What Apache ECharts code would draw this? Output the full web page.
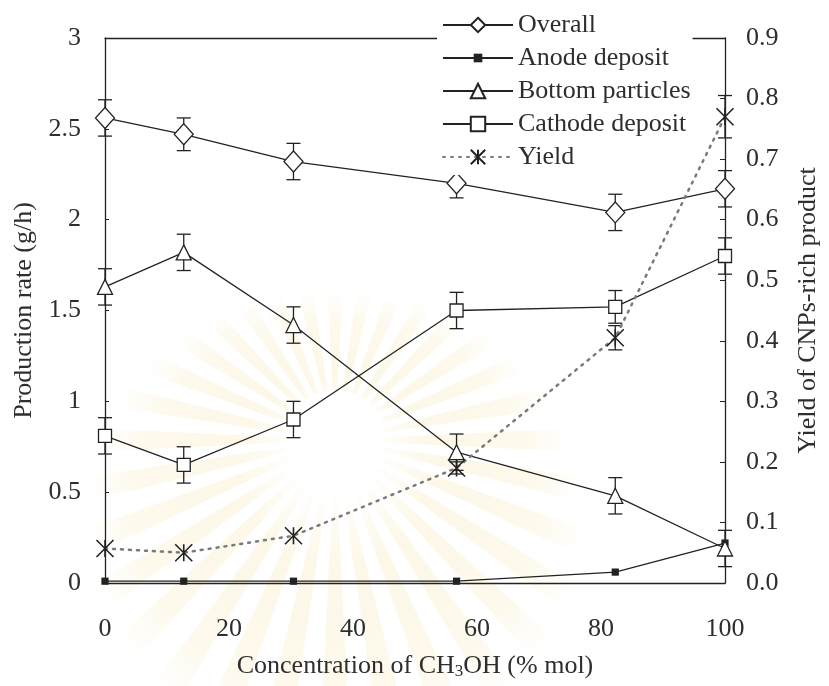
<!DOCTYPE html>
<html>
<head>
<meta charset="utf-8">
<script src="https://cdn.jsdelivr.net/npm/echarts@6/dist/echarts.min.js"></script>
<style>
  html, body { margin: 0; padding: 0; background: #fff; }
  #chart { width: 829px; height: 686px; }
</style>
</head>
<body>
<div id="chart"></div>
<script>
// Methanol concentration in the feed (% mol)
const concentration = [0, 12.7, 30.4, 56.7, 82.3, 100];

// Production rates (g/h) with standard deviations
const overall    = [2.56, 2.47, 2.32, 2.20, 2.04, 2.17];
const overallErr = [0.10, 0.09, 0.10, 0.08, 0.10, 0.10];
const anode      = [0.01, 0.01, 0.01, 0.01, 0.06, 0.22];
const bottom     = [1.63, 1.82, 1.42, 0.72, 0.48, 0.19];
const bottomErr  = [0.10, 0.10, 0.10, 0.10, 0.10, 0.10];
const cathode    = [0.81, 0.65, 0.90, 1.50, 1.52, 1.80];
const cathodeErr = [0.10, 0.10, 0.10, 0.10, 0.09, 0.10];

// Yield of CNPs-rich product (fraction) with standard deviations
const yieldVals = [0.057, 0.050, 0.078, 0.190, 0.405, 0.770];
const yieldErr  = [0, 0, 0, 0.010, 0.020, 0.035];

// Axis tick labels
const xTickLabels     = ['0', '20', '40', '60', '80', '100'];
const rateTickLabels  = ['0', '0.5', '1', '1.5', '2', '2.5', '3'];
const yieldTickLabels = ['0.0', '0.1', '0.2', '0.3', '0.4', '0.5', '0.6', '0.7', '0.8', '0.9'];

const FONT = '"Liberation Serif", "Times New Roman", serif';
const INK = '#222';
const TEXT = '#2e2e2e';

const pairs = (ys) => concentration.map((x, i) => [x, ys[i]]);

function errorBars(id, yAxisIndex, vals, errs, cap) {
  const data = [];
  concentration.forEach((x, i) => {
    if (errs[i] > 0) data.push([x, vals[i] - errs[i], vals[i] + errs[i]]);
  });
  return {
    type: 'custom',
    id: id,
    name: id,
    yAxisIndex: yAxisIndex,
    z: 1,
    silent: true,
    clip: false,
    data: data,
    encode: { x: 0, y: [1, 2] },
    renderItem: function (params, api) {
      const lo = api.coord([api.value(0), api.value(1)]);
      const hi = api.coord([api.value(0), api.value(2)]);
      const w = cap / 2;
      const st = { stroke: INK, lineWidth: 1.3 };
      return {
        type: 'group',
        children: [
          { type: 'line', shape: { x1: lo[0], y1: lo[1], x2: hi[0], y2: hi[1] }, style: st },
          { type: 'line', shape: { x1: lo[0] - w, y1: lo[1], x2: lo[0] + w, y2: lo[1] }, style: st },
          { type: 'line', shape: { x1: hi[0] - w, y1: hi[1], x2: hi[0] + w, y2: hi[1] }, style: st }
        ]
      };
    }
  };
}

const hollow = { color: '#fff', borderColor: INK, borderWidth: 1.3 };
const solidLine = { color: INK, width: 1.3 };

// small filled square, padded so it stays small inside the legend icon box
const smallSquare = 'path://M0,0L0,0M20,20L20,20M4,4H16V16H4Z';
// six-armed asterisk
const asterisk = 'path://M0,0L16,16M16,0L0,16M8,0L8,16';

// faint sunburst emblem in the background
function sunburst(cx, cy) {
  const els = [];
  const n = 32;
  for (let k = 0; k < n; k++) {
    const mid = (k / n) * Math.PI * 2;           // angle from "up", clockwise
    const down = -Math.cos(mid);                 // -1 at top, +1 at bottom
    const r = 235 + 85 * down;
    const half = 2.8 * Math.PI / 180;
    const a = mid - Math.PI / 2;
    els.push({
      type: 'sector',
      z: -10,
      silent: true,
      shape: { cx: cx, cy: cy, r0: 50, r: r, startAngle: a - half, endAngle: a + half },
      style: {
        fill: {
          type: 'radial', x: cx, y: cy, r: r, global: true,
          colorStops: [
            { offset: 0.15, color: 'rgba(246,228,170,0)' },
            { offset: 0.40, color: 'rgba(246,228,170,0.28)' },
            { offset: 0.80, color: 'rgba(246,228,170,0.22)' },
            { offset: 1.00, color: 'rgba(246,228,170,0)' }
          ]
        }
      }
    });
  }
  return els;
}

const chart = echarts.init(document.getElementById('chart'), null, { renderer: 'canvas' });

chart.setOption({
  animation: false,
  backgroundColor: '#fff',
  textStyle: { fontFamily: FONT },
  graphic: { elements: sunburst(335, 440) },
  grid: { left: 105, right: 98, top: 38, bottom: 103, containLabel: false },
  legend: {
    data: ['Overall', 'Anode deposit', 'Bottom particles', 'Cathode deposit', 'Yield'],
    orient: 'vertical',
    left: 437,
    top: 7,
    padding: [5, 2, 5, 5],
    itemWidth: 70,
    itemHeight: 18,
    itemGap: 7,
    backgroundColor: '#fff',
    selectedMode: false,
    textStyle: { fontFamily: FONT, fontSize: 26, lineHeight: 26, color: TEXT }
  },
  xAxis: [
    {
      type: 'value',
      min: 0, max: 100, interval: 20,
      name: 'Concentration of CH{s|3}OH (% mol)',
      nameLocation: 'middle',
      nameGap: 70,
      nameTextStyle: {
        fontFamily: FONT, fontSize: 26, color: TEXT,
        rich: { s: { fontFamily: FONT, fontSize: 17, color: TEXT, padding: [10, 0, 0, 0] } }
      },
      axisLine: { show: true, onZero: false, lineStyle: { color: INK, width: 1.3 } },
      axisTick: { show: false },
      splitLine: { show: false },
      axisLabel: {
        margin: 33, fontFamily: FONT, fontSize: 26, color: TEXT,
        formatter: (v) => xTickLabels[Math.round(v / 20)]
      }
    },
    {
      type: 'value',
      position: 'top',
      min: 0, max: 100,
      axisLine: { show: true, onZero: false, lineStyle: { color: INK, width: 1.3 } },
      axisTick: { show: false },
      axisLabel: { show: false },
      splitLine: { show: false }
    }
  ],
  yAxis: [
    {
      type: 'value',
      position: 'left',
      min: 0, max: 3, interval: 0.5,
      name: 'Production rate (g/h)',
      nameLocation: 'middle',
      nameRotate: 90,
      nameGap: 61,
      nameTextStyle: { fontFamily: FONT, fontSize: 26, color: TEXT },
      axisLine: { show: true, onZero: false, lineStyle: { color: INK, width: 1.3 } },
      axisTick: { show: true, inside: true, length: 4, lineStyle: { color: INK, width: 1 } },
      splitLine: { show: false },
      axisLabel: {
        margin: 24, fontFamily: FONT, fontSize: 26, color: TEXT,
        formatter: (v) => rateTickLabels[Math.round(v / 0.5)]
      }
    },
    {
      type: 'value',
      position: 'right',
      min: 0, max: 0.9, interval: 0.1,
      name: 'Yield of CNPs-rich product',
      nameLocation: 'middle',
      nameRotate: 90,
      nameGap: 70,
      nameTextStyle: { fontFamily: FONT, fontSize: 26, color: TEXT },
      axisLine: { show: true, onZero: false, lineStyle: { color: INK, width: 1.3 } },
      axisTick: { show: true, inside: true, length: 5, lineStyle: { color: INK, width: 1 } },
      splitLine: { show: false },
      axisLabel: {
        margin: 21, fontFamily: FONT, fontSize: 26, color: TEXT,
        formatter: (v) => yieldTickLabels[Math.round(v / 0.1)]
      }
    }
  ],
  series: [
    errorBars('overall-err', 0, overall, overallErr, 14),
    errorBars('bottom-err', 0, bottom, bottomErr, 14),
    errorBars('cathode-err', 0, cathode, cathodeErr, 14),
    errorBars('yield-err', 1, yieldVals, yieldErr, 14),
    {
      name: 'Overall', type: 'line', yAxisIndex: 0, clip: false, z: 3,
      data: pairs(overall),
      symbol: 'diamond', symbolSize: [19, 21],
      itemStyle: hollow, lineStyle: solidLine,
      emphasis: { disabled: true }
    },
    {
      name: 'Anode deposit', type: 'line', yAxisIndex: 0, clip: false, z: 3,
      data: pairs(anode),
      symbol: smallSquare, symbolSize: 12,
      itemStyle: { color: INK, borderColor: INK, borderWidth: 0 },
      lineStyle: solidLine,
      emphasis: { disabled: true }
    },
    {
      name: 'Bottom particles', type: 'line', yAxisIndex: 0, clip: false, z: 3,
      data: pairs(bottom),
      symbol: 'triangle', symbolSize: [15, 15],
      itemStyle: hollow, lineStyle: solidLine,
      emphasis: { disabled: true }
    },
    {
      name: 'Cathode deposit', type: 'line', yAxisIndex: 0, clip: false, z: 3,
      data: pairs(cathode),
      symbol: 'rect', symbolSize: 13,
      itemStyle: hollow, lineStyle: solidLine,
      emphasis: { disabled: true }
    },
    {
      name: 'Yield', type: 'line', yAxisIndex: 1, clip: false, z: 3,
      data: pairs(yieldVals),
      symbol: asterisk, symbolSize: 17,
      itemStyle: { color: INK, borderColor: INK, borderWidth: 1.6 },
      lineStyle: { color: '#7a7a7a', width: 2.5, type: [2, 6], cap: 'round' },
      emphasis: { disabled: true }
    }
  ]
});
</script>
</body>
</html>
